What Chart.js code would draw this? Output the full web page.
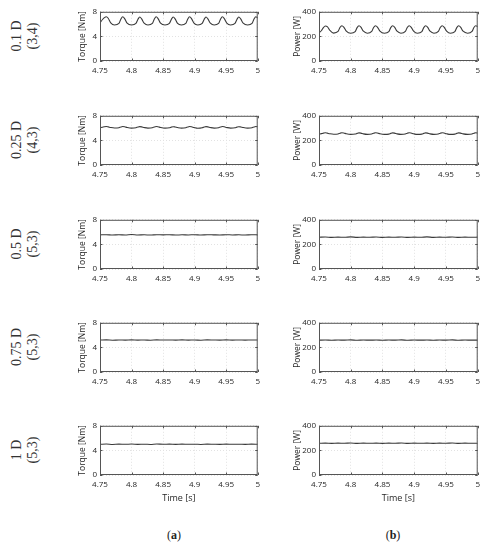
<!DOCTYPE html>
<html>
<head>
<meta charset="utf-8">
<script src="https://cdn.jsdelivr.net/npm/chart.js@4.4.1/dist/chart.umd.min.js"></script>
<style>
  html, body { margin: 0; padding: 0; background: #fff; }
  #fig { position: relative; width: 489px; height: 550px; overflow: hidden; }
  .box { position: absolute; }
  .rowlab {
    position: absolute; font-family: 'Liberation Serif', serif; font-size: 14px;
    line-height: 16px; color: #333; text-align: center; white-space: nowrap;
    transform: translate(-50%, -50%) rotate(-90deg);
  }
  .panel {
    position: absolute; font-family: 'Liberation Serif', serif; font-size: 12px;
    color: #222; transform: translate(-50%, -50%); white-space: nowrap;
  }
</style>
</head>
<body>
<div id="fig"></div>
<script>
// row captions (left side) and panel letters
const rowLabels = ['0.1 D', '0.25 D', '0.5 D', '0.75 D', '1 D'];
const rowPairs = ['(3,4)', '(4,3)', '(5,3)', '(5,3)', '(5,3)'];

// axis ticks
const xTicks = [4.75, 4.8, 4.85, 4.9, 4.95, 5];
const xTickLabels = ['4.75', '4.8', '4.85', '4.9', '4.95', '5'];
const torqueTicks = [0, 4, 8];
const powerTicks = [0, 200, 400];

// time samples for the rippled rows (0.1 D, 0.25 D)
const tRipple = [
  4.750, 4.754, 4.757, 4.760, 4.763, 4.767, 4.773,
  4.780, 4.783, 4.786, 4.789, 4.793, 4.800,
  4.807, 4.810, 4.813, 4.816, 4.820, 4.826,
  4.833, 4.836, 4.839, 4.842, 4.846, 4.853,
  4.860, 4.863, 4.866, 4.869, 4.873, 4.879,
  4.886, 4.889, 4.892, 4.895, 4.899, 4.905,
  4.912, 4.915, 4.918, 4.921, 4.925, 4.931,
  4.938, 4.941, 4.944, 4.947, 4.951, 4.957,
  4.964, 4.967, 4.970, 4.973, 4.977, 4.984,
  4.991, 4.994, 4.997, 5.000
];

// 0.1 D (3,4)
const torque01 = [
  6.2, 6.75, 7.05, 7.2, 6.95, 6.2, 5.85,
  6.1, 6.8, 7.2, 6.9, 6.15, 5.85,
  6.1, 6.75, 7.15, 6.85, 6.15, 5.85,
  6.1, 6.8, 7.2, 6.9, 6.15, 5.85,
  6.1, 6.75, 7.15, 6.85, 6.1, 5.85,
  6.1, 6.8, 7.2, 6.9, 6.15, 5.85,
  6.1, 6.75, 7.15, 6.85, 6.15, 5.85,
  6.1, 6.8, 7.2, 6.9, 6.15, 5.85,
  6.1, 6.75, 7.15, 6.85, 6.15, 5.85,
  6.1, 6.8, 7.2, 7.0
];
const power01 = [
  228, 248, 272, 284, 280, 250, 227,
  240, 272, 287, 276, 243, 226,
  239, 271, 286, 275, 242, 226,
  240, 272, 287, 276, 243, 226,
  239, 271, 286, 275, 242, 226,
  240, 272, 287, 276, 243, 226,
  239, 271, 286, 275, 242, 226,
  240, 272, 287, 276, 243, 226,
  239, 271, 286, 275, 242, 226,
  240, 272, 286, 280
];

// 0.25 D (4,3)
const torque025 = [
  6.05, 6.15, 6.22, 6.25, 6.2, 6.1, 6.02,
  6.06, 6.18, 6.25, 6.21, 6.1, 6.0,
  6.06, 6.17, 6.24, 6.2, 6.09, 6.0,
  6.06, 6.18, 6.25, 6.21, 6.1, 6.0,
  6.05, 6.16, 6.23, 6.19, 6.09, 6.0,
  6.06, 6.18, 6.25, 6.21, 6.1, 5.98,
  6.06, 6.17, 6.24, 6.2, 6.09, 6.0,
  6.06, 6.18, 6.25, 6.21, 6.1, 6.0,
  6.05, 6.16, 6.23, 6.19, 6.09, 6.0,
  6.06, 6.18, 6.25, 6.22
];
const power025 = [
  250, 255, 259, 262, 259, 254, 250,
  252, 258, 262, 260, 254, 249,
  252, 257, 261, 259, 253, 249,
  252, 258, 262, 260, 254, 249,
  251, 257, 261, 259, 253, 249,
  252, 258, 262, 260, 254, 249,
  251, 257, 261, 259, 253, 249,
  252, 258, 262, 260, 254, 249,
  251, 257, 261, 259, 253, 249,
  252, 258, 262, 260
];

// time samples for the flat rows (0.5 D, 0.75 D, 1 D)
const tFlat = [
  4.75, 4.76, 4.77, 4.78, 4.79, 4.80, 4.81, 4.82, 4.83, 4.84, 4.85, 4.86, 4.87,
  4.88, 4.89, 4.90, 4.91, 4.92, 4.93, 4.94, 4.95, 4.96, 4.97, 4.98, 4.99, 5.00
];

// 0.5 D (5,3)
const torque05 = [
  5.55, 5.58, 5.52, 5.57, 5.54, 5.6, 5.53, 5.56, 5.52, 5.58, 5.55, 5.57, 5.52,
  5.56, 5.54, 5.58, 5.52, 5.57, 5.55, 5.53, 5.58, 5.54, 5.56, 5.52, 5.57, 5.55
];
const power05 = [
  258, 260, 257, 259, 258, 261, 257, 259, 258, 260, 257, 259, 258,
  260, 257, 259, 258, 261, 257, 259, 258, 260, 257, 259, 258, 259
];

// 0.75 D (5,3)
const torque075 = [
  5.2, 5.22, 5.17, 5.21, 5.19, 5.23, 5.18, 5.21, 5.17, 5.22, 5.2, 5.21, 5.18,
  5.22, 5.19, 5.21, 5.17, 5.22, 5.2, 5.18, 5.22, 5.19, 5.21, 5.18, 5.21, 5.2
];
const power075 = [
  259, 260, 258, 260, 259, 261, 258, 260, 259, 260, 258, 260, 259,
  261, 258, 260, 259, 260, 258, 260, 259, 261, 258, 260, 259, 259
];

// 1 D (5,3)
const torque1 = [
  5.0, 5.03, 4.97, 5.02, 4.99, 5.03, 4.98, 5.01, 4.97, 5.03, 5.0, 5.02, 4.98,
  5.02, 4.99, 5.01, 4.97, 5.02, 5.0, 4.98, 5.02, 4.99, 5.01, 4.98, 5.02, 5.0
];
const power1 = [
  258, 259, 257, 259, 258, 260, 257, 259, 258, 259, 257, 259, 258,
  260, 257, 259, 258, 259, 257, 259, 258, 260, 257, 259, 258, 258
];

const rows = [
  { t: tRipple, torque: torque01, power: power01 },
  { t: tRipple, torque: torque025, power: power025 },
  { t: tFlat, torque: torque05, power: power05 },
  { t: tFlat, torque: torque075, power: power075 },
  { t: tFlat, torque: torque1, power: power1 }
];

// layout of the plot boxes (pixels on the page)
const ROW_TOP = [10, 114, 218, 321, 424];
const PLOT_H = 51;
const COLS = [
  { left: 100, right: 259, yTitle: 'Torque [Nm]', ticks: torqueTicks, max: 8, key: 'torque', titlePad: 17 },
  { left: 319, right: 479, yTitle: 'Power [W]', ticks: powerTicks, max: 400, key: 'power', titlePad: 13 }
];
const Y_AXIS_W = 40;
const PAD_TOP = 6, PAD_RIGHT = 6;

const TEXT = '#262626';
const FONT = "'Open Sans', 'DejaVu Sans', sans-serif";

// MATLAB-like box with small inward ticks
const framePlugin = {
  id: 'frame',
  afterDraw(chart) {
    const { ctx, chartArea: a, scales } = chart;
    const x = scales.x, y = scales.y;
    ctx.save();
    ctx.strokeStyle = '#555';
    ctx.lineWidth = 1;
    ctx.strokeRect(a.left + 0.5, a.top + 0.5, a.right - a.left - 1, a.bottom - a.top - 1);
    ctx.beginPath();
    x.ticks.forEach(tk => {
      const px = Math.round(x.getPixelForValue(tk.value)) + 0.5;
      ctx.moveTo(px, a.top); ctx.lineTo(px, a.top + 2.5);
      ctx.moveTo(px, a.bottom); ctx.lineTo(px, a.bottom - 2.5);
    });
    y.ticks.forEach(tk => {
      const py = Math.round(y.getPixelForValue(tk.value)) + 0.5;
      ctx.moveTo(a.left, py); ctx.lineTo(a.left + 2.5, py);
      ctx.moveTo(a.right, py); ctx.lineTo(a.right - 2.5, py);
    });
    ctx.stroke();
    ctx.restore();
  }
};

const fig = document.getElementById('fig');

function makeChart(rowIdx, col) {
  const last = rowIdx === rows.length - 1;
  const xH = last ? 32 : 16;
  const w = (col.right - col.left) + Y_AXIS_W + PAD_RIGHT;
  const h = PAD_TOP + PLOT_H + xH;

  const box = document.createElement('div');
  box.className = 'box';
  box.style.left = (col.left - Y_AXIS_W) + 'px';
  box.style.top = (ROW_TOP[rowIdx] - PAD_TOP) + 'px';
  box.style.width = w + 'px';
  box.style.height = h + 'px';
  const cv = document.createElement('canvas');
  cv.width = w; cv.height = h;
  box.appendChild(cv);
  fig.appendChild(box);

  const r = rows[rowIdx];
  const pts = r.t.map((t, i) => ({ x: t, y: r[col.key][i] }));

  return new Chart(cv, {
    type: 'line',
    data: {
      datasets: [{
        data: pts,
        borderColor: '#3a3a3a',
        borderWidth: 1.1,
        pointRadius: 0,
        tension: 0.4,
        cubicInterpolationMode: 'monotone',
        fill: false
      }]
    },
    options: {
      responsive: false,
      animation: false,
      layout: { padding: { top: PAD_TOP, right: PAD_RIGHT, left: 0, bottom: 0 } },
      plugins: { legend: { display: false }, tooltip: { enabled: false } },
      scales: {
        x: {
          type: 'linear', min: 4.75, max: 5,
          afterBuildTicks: s => { s.ticks = xTicks.map(v => ({ value: v })); },
          afterFit: s => { s.height = xH; },
          grid: { color: '#e2e2e2', drawTicks: false },
          border: { display: false, dash: [1, 2] },
          ticks: {
            color: TEXT, padding: 5, autoSkip: false, maxRotation: 0,
            font: { family: FONT, size: 8 },
            callback: (v, i) => xTickLabels[i]
          },
          title: {
            display: last, text: 'Time [s]', color: TEXT,
            font: { family: FONT, size: 9 }, padding: { top: 0, bottom: 3 }
          }
        },
        y: {
          min: 0, max: col.max,
          afterBuildTicks: s => { s.ticks = col.ticks.map(v => ({ value: v })); },
          afterFit: s => { s.width = Y_AXIS_W; },
          grid: { color: '#e2e2e2', drawTicks: false },
          border: { display: false, dash: [1, 2] },
          ticks: {
            color: TEXT, padding: 3,
            font: { family: FONT, size: 8 }
          },
          title: {
            display: true, text: col.yTitle, color: TEXT,
            font: { family: FONT, size: 8.5 }, padding: { top: col.titlePad, bottom: 0 }
          }
        }
      }
    },
    plugins: [framePlugin]
  });
}

// row captions, rotated like the original
ROW_TOP.forEach((top, i) => {
  const d = document.createElement('div');
  d.className = 'rowlab';
  d.style.left = '25px';
  d.style.top = (top + PLOT_H / 2) + 'px';
  d.appendChild(document.createTextNode(rowLabels[i]));
  d.appendChild(document.createElement('br'));
  d.appendChild(document.createTextNode(rowPairs[i]));
  fig.appendChild(d);

  COLS.forEach(c => makeChart(i, c));
});

// panel letters
[['a', 174], ['b', 393]].forEach(([letter, x]) => {
  const p = document.createElement('div');
  p.className = 'panel';
  p.style.left = x + 'px';
  p.style.top = '535px';
  p.textContent = '(';
  const b = document.createElement('b');
  b.textContent = letter;
  p.appendChild(b);
  p.appendChild(document.createTextNode(')'));
  fig.appendChild(p);
});
</script>
</body>
</html>
